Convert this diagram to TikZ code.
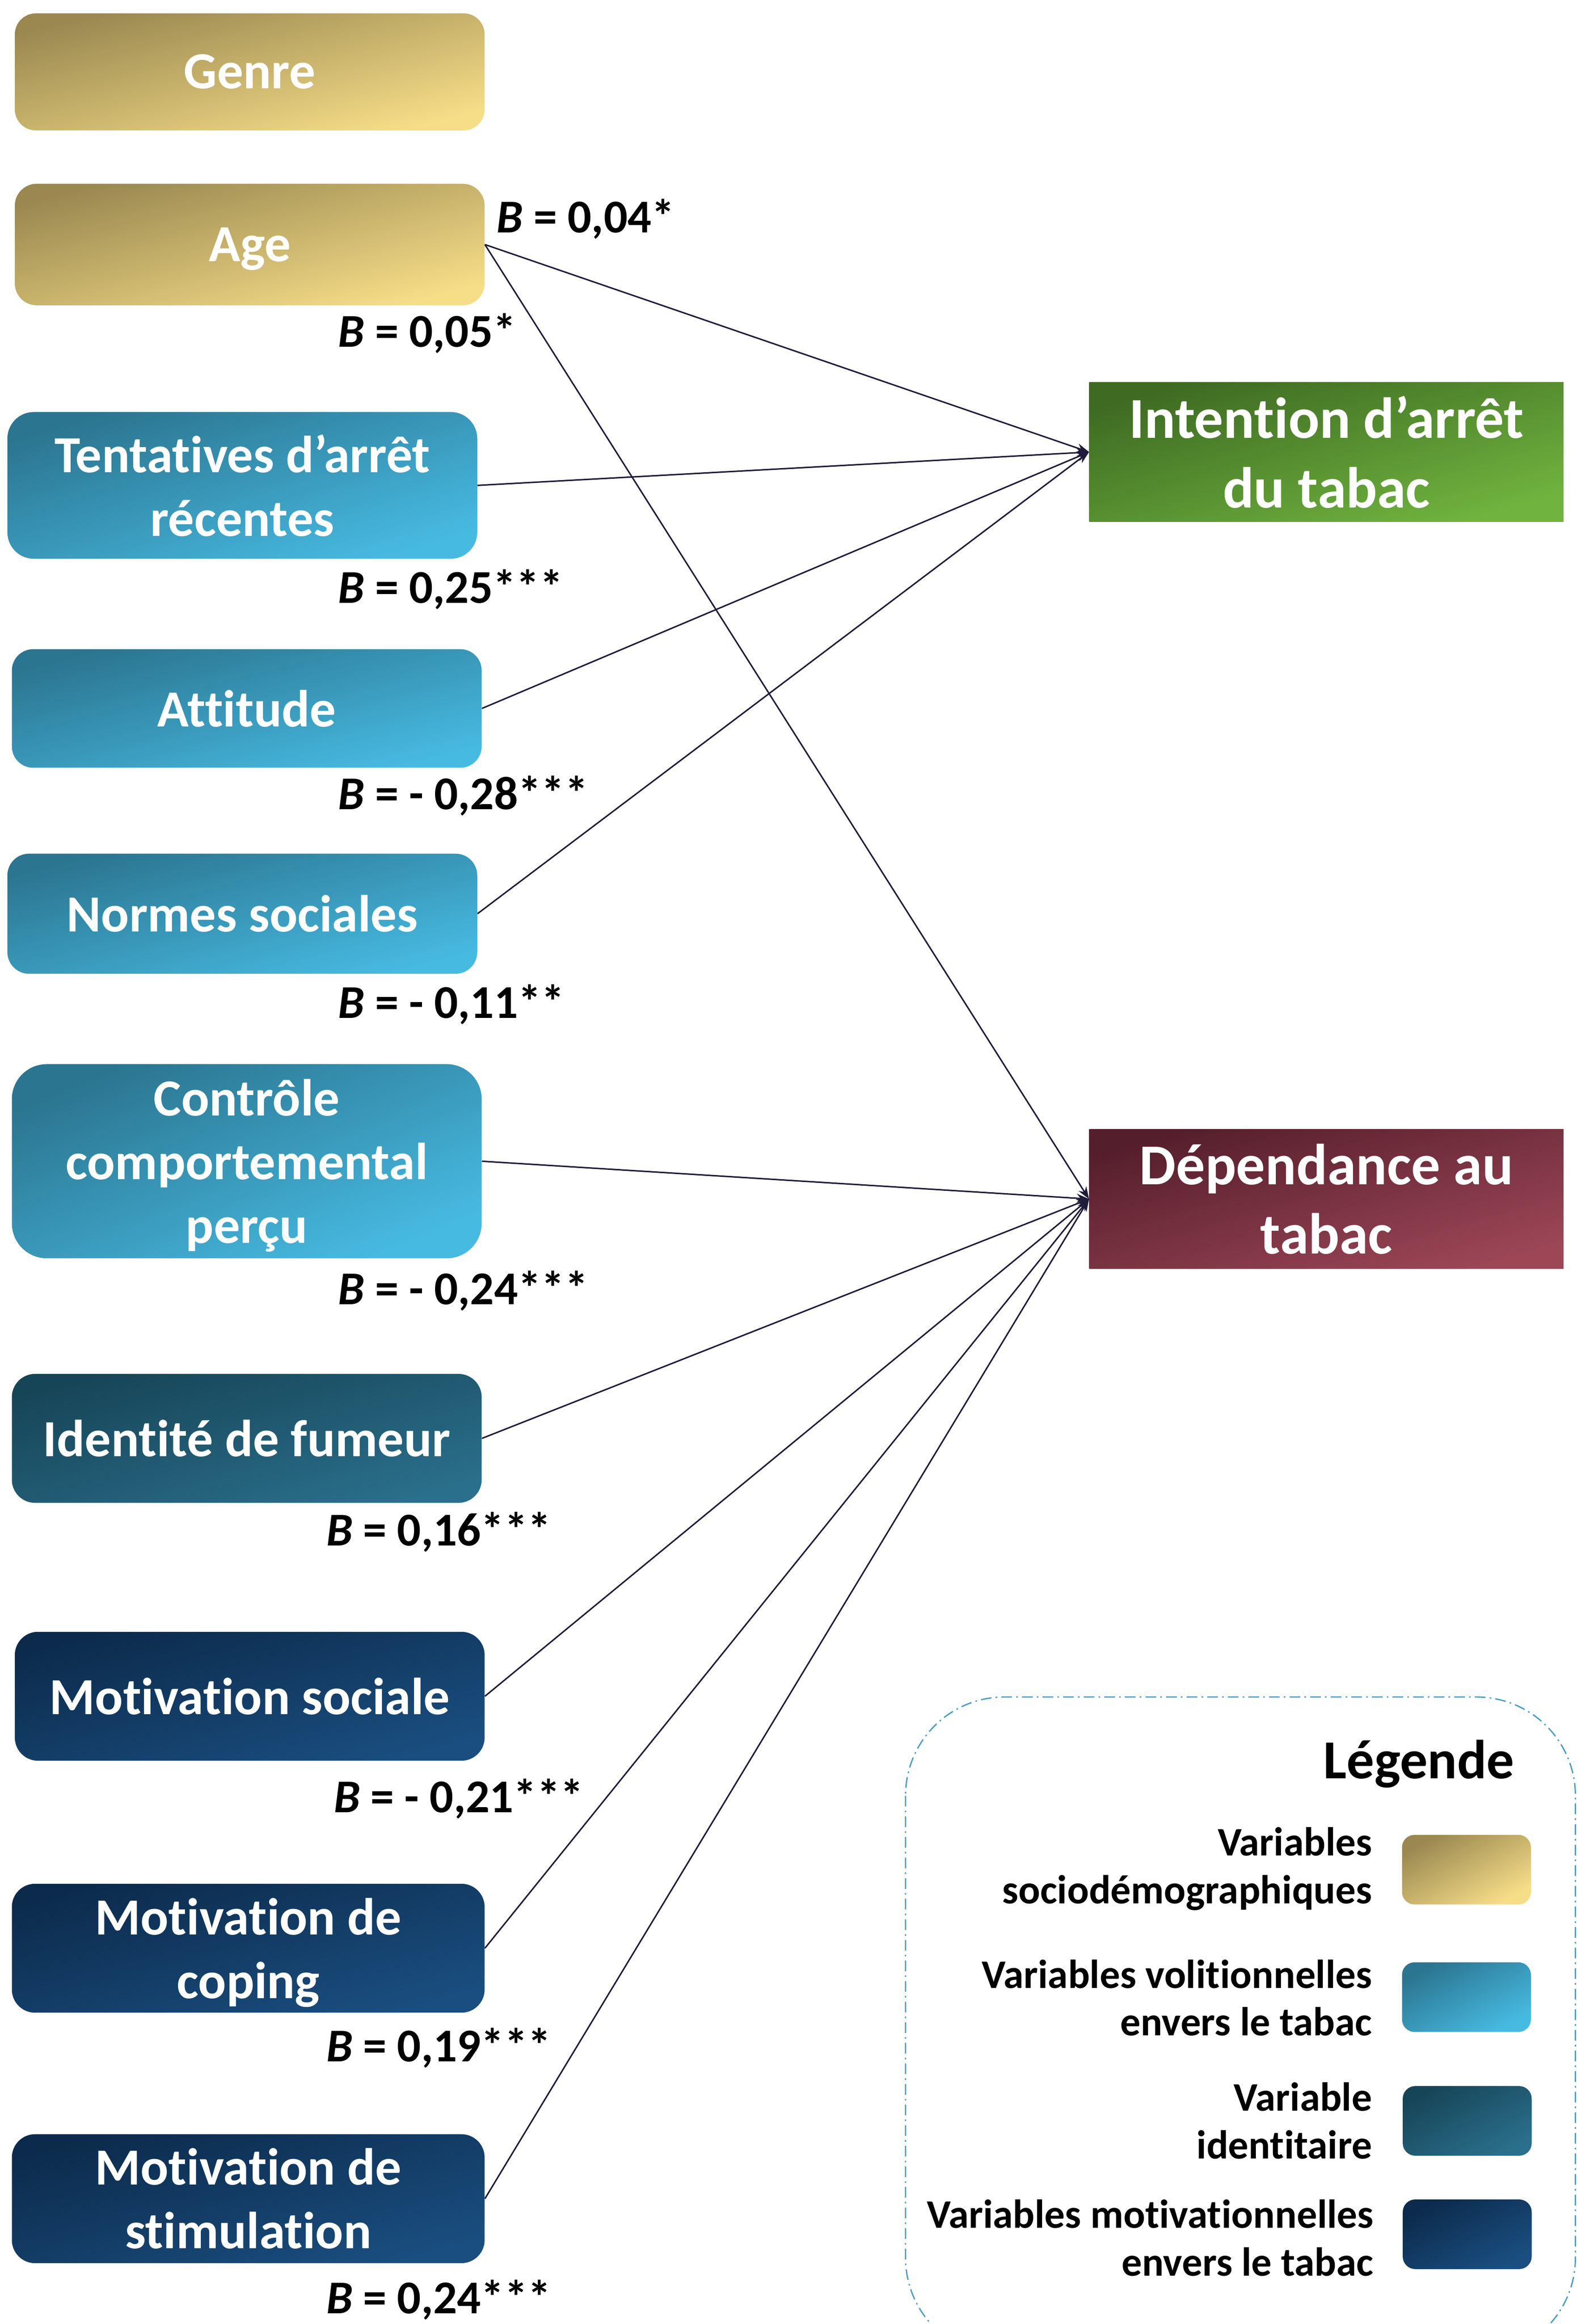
\documentclass[tikz,border=0pt]{standalone}
\usepackage{fontspec}
\setmainfont{Carlito}[RawFeature=-liga]
\usetikzlibrary{arrows.meta}
\definecolor{goldA}{HTML}{9A8850}
\definecolor{goldB}{HTML}{F6DD88}
\definecolor{blueA}{HTML}{2B7590}
\definecolor{blueB}{HTML}{47BAE2}
\definecolor{tealA}{HTML}{174558}
\definecolor{tealB}{HTML}{2A6F8B}
\definecolor{navyA}{HTML}{0C2B4C}
\definecolor{navyB}{HTML}{1A4E80}
\definecolor{greenA}{HTML}{3E6A22}
\definecolor{greenB}{HTML}{70B43F}
\definecolor{marA}{HTML}{551E2C}
\definecolor{marB}{HTML}{9C4656}
\definecolor{lineC}{HTML}{1F1B3B}
\definecolor{legC}{HTML}{4A9CC4}
\newcommand\nodepth[1]{\raisebox{0pt}[\height][0pt]{#1}}
\newcommand\mybox[7]{%
  \pgfmathsetlengthmacro\bxw{#4*0.036cm}%
  \pgfmathsetlengthmacro\bxh{#5*0.036cm}%
  \pgfmathsetlengthmacro\bxr{0.18*#5*0.036cm}%
  \pgfmathsetmacro\bxa{atan(#5/#4)}%
  \node[box,#6,shading angle=\bxa,minimum width=\bxw,minimum height=\bxh,rounded corners=\bxr] (#1) at (#2,#3) {#7};}
\begin{document}
\begin{tikzpicture}[x=0.036cm,y=-0.036cm,
  box/.style={inner sep=0pt,text=white,align=center,font=\bfseries\fontsize{36}{44}\selectfont},
  gold/.style={top color=goldA,bottom color=goldB},
  volit/.style={top color=blueA,bottom color=blueB},
  ident/.style={top color=tealA,bottom color=tealB},
  motiv/.style={top color=navyA,bottom color=navyB},
  greenbox/.style={top color=greenA,bottom color=greenB,shading angle=16},
  marbox/.style={top color=marA,bottom color=marB,shading angle=16},
  outbox/.style={inner sep=0pt,text=white,align=center,font=\bfseries\fontsize{40}{48}\selectfont,minimum width=320*0.036cm,minimum height=94*0.036cm},
  blab/.style={inner sep=0pt,anchor=base west,font=\bfseries\fontsize{32.5}{38}\selectfont},
  conn/.style={draw=lineC,line width=1pt,-{Stealth[length=3mm,width=2.2mm]}},
  legtext/.style={inner sep=0pt,anchor=east,align=right,font=\bfseries\fontsize{28}{33}\selectfont}
]
\useasboundingbox (0,0) rectangle (1063.89,1568.06);
\fill[white] (0,0) rectangle (1063.89,1568.06);

% predictor boxes
\mybox{genre}{168.5}{48.5}{317}{79}{gold}{Genre}
\mybox{age}{168.5}{165}{317}{82}{gold}{\nodepth{Age}}
\mybox{tent}{163.5}{327.5}{317}{99}{volit}{Tentatives d’arrêt\\récentes}
\mybox{att}{166.5}{478}{317}{80}{volit}{Attitude}
\mybox{norm}{163.5}{616.5}{317}{81}{volit}{Normes sociales}
\mybox{ctrl}{166.5}{783.5}{317}{131}{volit}{Contrôle\\comportemental\\\nodepth{perçu}}
\mybox{idf}{166.5}{970.5}{317}{87}{ident}{Identité de fumeur}
\mybox{msoc}{168.5}{1144.5}{317}{87}{motiv}{Motivation sociale}
\mybox{mcop}{167.5}{1314.5}{319}{87}{motiv}{Motivation de\\\nodepth{coping}}
\mybox{mstim}{167.5}{1483.5}{319}{87}{motiv}{Motivation de\\stimulation}

% outcome boxes
\node[outbox,greenbox] (intent) at (895,305) {Intention d’arrêt\\du tabac};
\node[outbox,marbox] (dep) at (895,809) {Dépendance au\\tabac};

% connectors
\draw[conn] (age.east) -- (intent.west);
\draw[conn] (age.east) -- (dep.west);
\draw[conn] (tent.east) -- (intent.west);
\draw[conn] (att.east) -- (intent.west);
\draw[conn] (norm.east) -- (intent.west);
\draw[conn] (ctrl.east) -- (dep.west);
\draw[conn] (idf.east) -- (dep.west);
\draw[conn] (msoc.east) -- (dep.west);
\draw[conn] (mcop.east) -- (dep.west);
\draw[conn] (mstim.east) -- (dep.west);

% coefficients
\node[blab] (b1) at (335,157) {\textit{B} = 0,04*};
\node[blab] (b2) at (228,234) {\textit{B} = 0,05*};
\node[blab] (b3) at (228,407) {\textit{B} = 0,25***};
\node[blab] (b4) at (228,546) {\textit{B} = - 0,28***};
\node[blab] (b5) at (228,687) {\textit{B} = - 0,11**};
\node[blab] (b6) at (228,880) {\textit{B} = - 0,24***};
\node[blab] (b7) at (220,1043) {\textit{B} = 0,16***};
\node[blab] (b8) at (225,1223) {\textit{B} = - 0,21***};
\node[blab] (b9) at (220,1391) {\textit{B} = 0,19***};
\node[blab] (b10) at (220,1561) {\textit{B} = 0,24***};

% legend
\draw[legC,line width=0.9pt,dash pattern=on 2.6mm off 1mm on 0.4mm off 1mm,rounded corners=2.4cm] (611,1145) rectangle (1063,1590);
\node[inner sep=0pt,anchor=base east,font=\bfseries\fontsize{38}{46}\selectfont] (legt) at (1022,1200) {Légende};
\node[legtext] (lt1) at (926,1261) {Variables\\sociodémographiques};
\node[legtext] (lt2) at (926,1348) {Variables volitionnelles\\envers le tabac};
\node[legtext] (lt3) at (926,1431) {Variable\\identitaire};
\node[legtext] (lt4) at (927,1510) {Variables motivationnelles\\envers le tabac};
\mybox{sw1}{989.5}{1261.5}{87}{47}{gold}{}
\mybox{sw2}{989.5}{1347.5}{87}{47}{volit}{}
\mybox{sw3}{990}{1431}{87}{47}{ident}{}
\mybox{sw4}{990}{1507.5}{87}{47}{motiv}{}
\end{tikzpicture}
\end{document}
